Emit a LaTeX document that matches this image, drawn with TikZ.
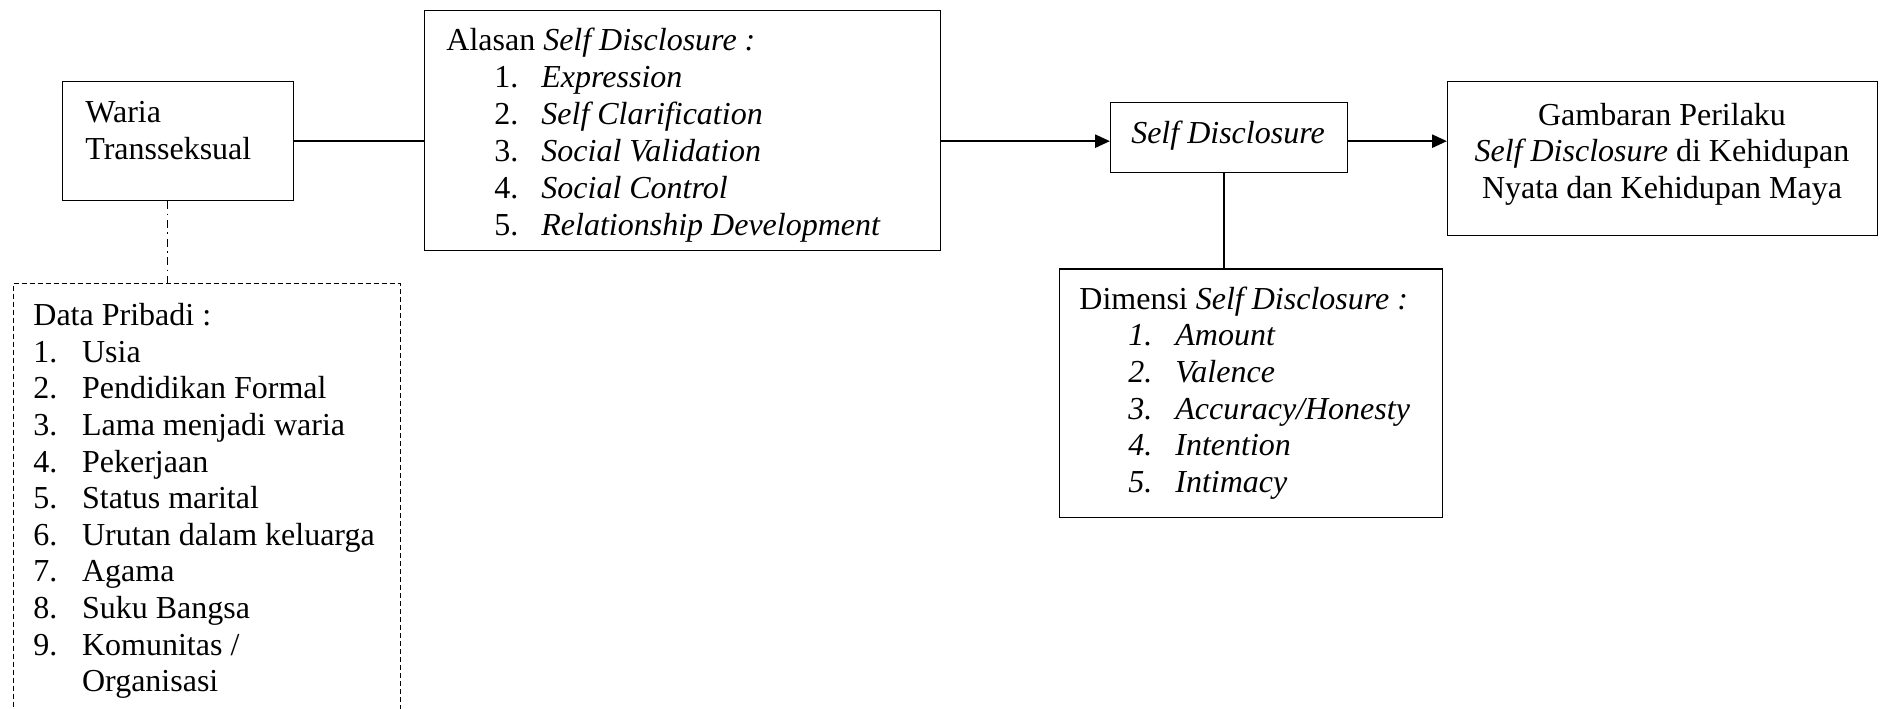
\documentclass[tikz,border=0pt]{standalone}
\usepackage{fontspec}
\setmainfont{Liberation Serif}
\usetikzlibrary{arrows.meta,calc}
\begin{document}
\begin{tikzpicture}[x=0.5pt,y=-0.5pt,
  box/.style={draw,line width=0.65pt,anchor=north west,inner sep=0pt},
  dashbox/.style={draw,line width=0.65pt,dash pattern=on 2.5pt off 1.5pt,anchor=north west,inner sep=0pt},
  txt/.style={anchor=base west,inner sep=0pt,font=\fontsize{16}{18.4}\selectfont},
  ctxt/.style={anchor=base,inner sep=0pt,font=\fontsize{16}{18.4}\selectfont},
  link/.style={line width=1pt},
  thinlink/.style={line width=0.75pt},
  arr/.style={line width=1.3pt,-{Triangle[length=7.5pt,width=6.5pt]}},
  dashdot/.style={line width=0.65pt,dash pattern=on 4pt off 2.25pt on 0.8pt off 2.25pt}]
\useasboundingbox (0,0) rectangle (1880,708);
\clip (0,0) rectangle (1880,708);

% boxes
\node[box,minimum width=115.5pt,minimum height=59.5pt] (waria) at (62,81) {};
\node[box,minimum width=258pt,minimum height=120.25pt] (alasan) at (424,9.5) {};
\node[box,minimum width=118.25pt,minimum height=35.15pt] (sd) at (1110,101.7) {};
\node[box,minimum width=215pt,minimum height=77pt] (gamb) at (1447,81) {};
\node[box,minimum width=191.5pt,minimum height=124.2pt] (dim) at (1059,268.3) {};
\node[dashbox,minimum width=193.65pt,minimum height=223.5pt] (data) at (12.7,283) {};

% Waria text
\node[txt] (w1) at (85,122) {Waria};
\node[txt] (w2) at (85,159) {Transseksual};

% Alasan text
\node[txt] (a0) at (446,50) {Alasan \textit{Self Disclosure :}};
\foreach \t [count=\i] in {Expression,{Self Clarification},{Social Validation},{Social Control},{Relationship Development}}{
  \node[txt] (an\i) at (494,{50+37*\i}) {\i.};
  \node[txt] (a\i) at (541,{50+37*\i}) {\textit{\t}};
}

% Self Disclosure text
\node[ctxt] (sdt) at (1228,143) {\textit{Self Disclosure}};

% Gambaran text
\node[ctxt] (g1) at (1662,125) {Gambaran Perilaku};
\node[ctxt] (g2) at (1662,161.7) {\textit{Self Disclosure} di Kehidupan};
\node[ctxt] (g3) at (1662,198.3) {Nyata dan Kehidupan Maya};

% Dimensi text
\node[txt] (d0) at (1079,309) {Dimensi \textit{Self Disclosure :}};
\foreach \t [count=\i] in {Amount,Valence,{Accuracy/Honesty},Intention,Intimacy}{
  \node[txt] (dn\i) at (1128,{309+36.7*\i}) {\textit{\i.}};
  \node[txt] (d\i) at (1175,{309+36.7*\i}) {\textit{\t}};
}

% Data Pribadi text
\node[txt] (p0) at (33,325.7) {Data Pribadi :};
\foreach \t [count=\i] in {Usia,{Pendidikan Formal},{Lama menjadi waria},Pekerjaan,{Status marital},{Urutan dalam keluarga},Agama,{Suku Bangsa},{Komunitas /}}{
  \node[txt] (pn\i) at (33,{325.7+36.6*\i}) {\i.};
  \node[txt] (p\i) at (81.7,{325.7+36.6*\i}) {\t};
}
\node[txt] (p10) at (81.7,691.7) {Organisasi};

% connectors
\draw[link] (waria.east) -- (waria.east -| alasan.west);
\draw[arr] (waria.east -| alasan.east) -- (waria.east -| sd.west);
\draw[arr] (waria.east -| sd.east) -- (waria.east -| gamb.west);
\coordinate (sdb) at ($(sd.south)+(-5,0)$);
\draw[thinlink] (sdb) -- (sdb |- dim.north);
\coordinate (wb) at ($(waria.south)+(-11,0)$);
\draw[dashdot] (wb) -- (wb |- data.north);
\end{tikzpicture}
\end{document}
